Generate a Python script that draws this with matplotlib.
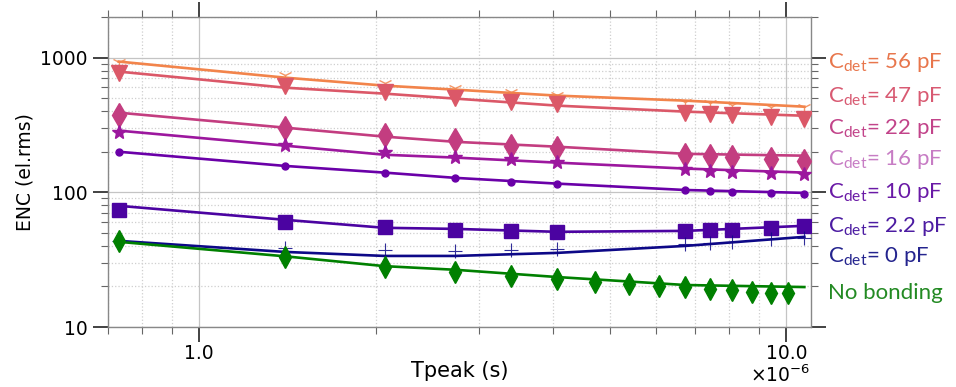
import numpy as np
import matplotlib
matplotlib.use("Agg")
import matplotlib.pyplot as plt
import matplotlib.ticker as mticker

plt.rcParams['mathtext.rm'] = 'Lato'
plt.rcParams['mathtext.it'] = 'Lato:italic'

# ---------------- data ----------------
# peaking times in microseconds
t_meas = [0.73, 1.4, 2.07, 2.73, 3.4, 4.07, 6.73, 7.4, 8.07, 9.4, 10.73]
t_nobond = [0.73, 1.4, 2.07, 2.73, 3.4, 4.07, 4.73, 5.4, 6.07, 6.73,
            7.4, 8.07, 8.73, 9.4, 10.07]
t_fit = [0.73, 1.4, 2.07, 2.73, 4.07, 6.73, 10.73]

enc_56 = [934, 747, 652, 598, 559, 531, 471, 463, 447, 432, 432]
enc_47 = [773, 619, 559, 504, 471, 455, 390, 383, 377, 364, 352]
enc_22 = [377, 302, 268, 246, 222, 214, 190, 187, 184, 177, 171]
enc_16 = [282, 226, 200, 184, 177, 169, 150, 144, 142, 140, 137]
enc_10 = [200, 157, 140, 128, 120, 116, 104, 103, 101, 99, 97.5]
enc_2p2 = [74, 60, 55.4, 52.6, 51.7, 50.9, 51.7, 52.6, 52.6, 54.5, 56.4]
enc_0 = [43.6, 38.7, 37.4, 36.7, 37.4, 38.0, 41.4, 42.1, 42.9, 45.1, 45.9]
enc_nobond = [43.6, 33.1, 27.9, 25.6, 23.9, 22.7, 21.6, 20.9, 20.2, 19.8,
              19.2, 18.8, 18.2, 17.9, 17.9]

fit_56 = [934, 710, 619, 578, 522, 479, 432]
fit_47 = [787, 598, 540, 496, 440, 397, 370]
fit_22 = [390, 302, 259, 237, 218, 193, 187]
fit_16 = [287, 222, 190, 181, 166, 150, 140]
fit_10 = [200, 157, 140, 128, 116, 104, 99]
fit_2p2 = [79.4, 62.5, 54.5, 53.5, 50.9, 51.7, 56.4]
fit_0 = [43.6, 36.1, 33.7, 33.7, 35.5, 40.0, 46.7]
fit_nobond = [42.9, 33.5, 28.3, 26.6, 23.5, 20.5, 19.8]

labels = [r'C$_{\mathrm{det}}$= 56 pF', r'C$_{\mathrm{det}}$= 47 pF',
          r'C$_{\mathrm{det}}$= 22 pF', r'C$_{\mathrm{det}}$= 16 pF',
          r'C$_{\mathrm{det}}$= 10 pF', r'C$_{\mathrm{det}}$= 2.2 pF',
          r'C$_{\mathrm{det}}$= 0 pF', 'No bonding']
label_colors = ['#e8764c', '#d85a72', '#c2448a', '#c77cc4',
                '#6a1aa6', '#4c1ca2', '#24248e', '#238a23']

# ---------------- plot ----------------
fig = plt.figure(figsize=(9.56, 3.87), dpi=100)
ax = fig.add_axes([0.113, 0.155, 0.735, 0.801])

series = [
    (t_meas, enc_56, fit_56, '#f2844b', '1', 10, 1.0),
    (t_meas, enc_47, fit_47, '#db5868', 'v', 11, 1.0),
    (t_meas, enc_22, fit_22, '#c33d80', 'd', 12, 1.0),
    (t_meas, enc_16, fit_16, '#9c179e', '*', 10, 1.0),
    (t_meas, enc_10, fit_10, '#6a00a8', '.', 10, 1.0),
    (t_meas, enc_2p2, fit_2p2, '#4b03a1', 's', 10, 1.0),
    (t_meas, enc_0, fit_0, '#0d0887', '+', 10, 0.8),
    (t_nobond, enc_nobond, fit_nobond, '#008000', 'd', 11, 1.0),
]

for tx, ty, fy, c, m, ms, mew in series:
    ax.plot(np.array(t_fit) * 1e-6, fy, '-', color=c, lw=1.9, zorder=3)
    ax.plot(np.array(tx) * 1e-6, ty, ls='none', marker=m, color=c,
            ms=ms, mew=mew, alpha=0.85 if m in ('1', '+') else 1, zorder=4)

ax.set_xscale('log')
ax.set_yscale('log')
ax.set_xlim(0.7e-6, 1.1e-5)
ax.set_ylim(10, 2000)

ax.xaxis.set_major_locator(mticker.FixedLocator([1e-6, 1e-5]))
ax.xaxis.set_major_formatter(
    mticker.FuncFormatter(lambda v, p: '%.1f' % (v / 1e-6)))
ax.xaxis.set_minor_formatter(mticker.NullFormatter())
ax.yaxis.set_major_formatter(mticker.ScalarFormatter())
ax.yaxis.set_minor_formatter(mticker.NullFormatter())

ax.tick_params(which='both', direction='out', top=True, right=True,
               labelsize=13.5, color='#222222')
ax.tick_params(which='major', length=11, width=1.2)
ax.tick_params(which='minor', length=5, width=0.8, color='#666666')
ax.tick_params(axis='x', which='major', pad=1)

# scale factor of the x axis, under the last tick label
ax.text(1.0, -0.12, r'$\times10^{-6}$', transform=ax.transAxes,
        ha='right', va='top', fontsize=13.5)

ax.grid(which='major', color='#c4c4c4', lw=0.9)
ax.grid(which='minor', color='#cfcfcf', ls=':', lw=0.9)
for s in ax.spines.values():
    s.set_color('#888888')
    s.set_linewidth(1.0)

ax.set_xlabel('Tpeak (s)', fontsize=15, labelpad=-1)
ax.set_ylabel('ENC (el.rms)', fontsize=13.5, labelpad=4)

# coloured labels to the right of the axes
label_y = [63, 96, 128, 160, 192, 226, 257, 293]
for txt, c, yp in zip(labels, label_colors, label_y):
    fig.text(828 / 956, 1 - yp / 387, txt, color=c, fontsize=16,
             family='Lato', math_fontfamily='custom', va='center', ha='left')

fig.savefig('out.png', dpi=100)
